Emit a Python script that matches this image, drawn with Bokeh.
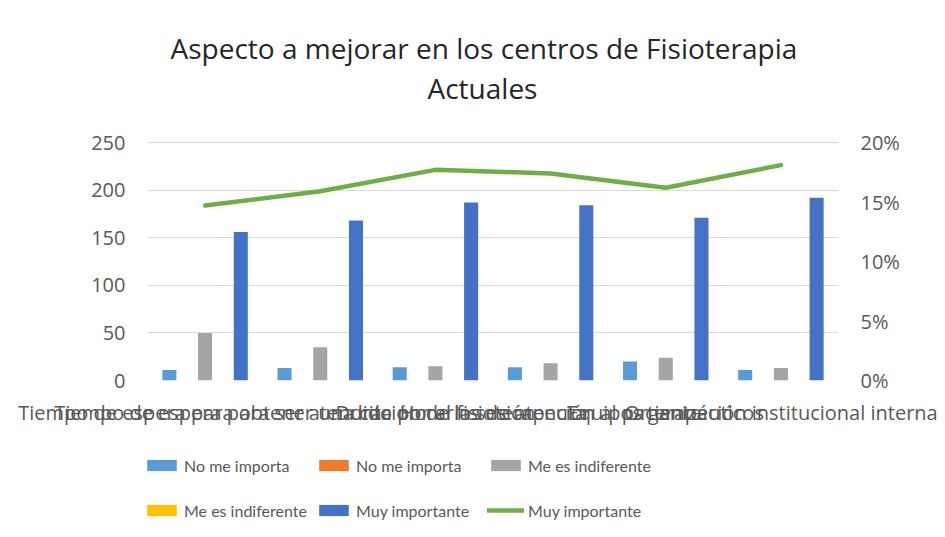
from bokeh.plotting import figure
from bokeh.layouts import column
from bokeh.models import (FactorRange, Range1d, LinearAxis, NumeralTickFormatter,
                          FixedTicker, Legend, LegendItem, Title, ColumnDataSource)
from bokeh.transform import dodge
from bokeh.embed import file_html
from bokeh.resources import INLINE

# ---------------- data ----------------
categories = [
    "Tiempo de espera para obtener una cita",
    "Tiempo de espera para ser atendido por el fisioterapeuta",
    "Duración de la sesión",
    "Horarios de atención al paciente",
    "Equipos terapéuticos",
    "Organización institucional interna",
]
no_me_importa = [11, 13, 14, 14, 20, 11]
no_me_importa_b = [0, 0, 0, 0, 0, 0]
me_es_indiferente = [50, 35, 15, 18, 24, 13]
me_es_indiferente_b = [0, 0, 0, 0, 0, 0]
muy_importante = [156, 168, 187, 184, 171, 192]
muy_importante_pct = [0.147, 0.159, 0.177, 0.174, 0.162, 0.181]
left_ticks = [0, 50, 100, 150, 200, 250]
right_ticks = [0, 0.05, 0.10, 0.15, 0.20]

FONT = "Open Sans"
GRAY_TXT = "#595959"
COLORS = ["#5B9BD5", "#ED7D31", "#A5A5A5", "#FFC000", "#4472C4"]
LINE_COLOR = "#70AD47"

# frame: 0 at the bottom edge, 250 / 20 % gridline 238 px higher, 36 px headroom above it
LEFT_TOP = 250 * 274 / 238
PCT_TOP = 0.20 * 274 / 238

src = ColumnDataSource(dict(cat=categories, a=no_me_importa, b=no_me_importa_b,
                            c=me_es_indiferente, d=me_es_indiferente_b,
                            e=muy_importante, pct=muy_importante_pct))

p = figure(x_range=FactorRange(*categories, range_padding=0), y_range=Range1d(0, LEFT_TOP),
           frame_width=691, frame_height=274, output_backend="svg", toolbar_location=None,
           min_border_left=147, min_border_right=107, min_border_top=106, min_border_bottom=50)
p.outline_line_color = None
p.xgrid.grid_line_color = None
p.ygrid.grid_line_color = "#d9d9d9"
p.ygrid.grid_line_width = 1
p.ygrid.ticker = FixedTicker(ticks=left_ticks)

# axes
p.yaxis.ticker = FixedTicker(ticks=left_ticks)
for ax in (p.xaxis[0], p.yaxis[0]):
    ax.axis_line_color = None
    ax.major_tick_line_color = None
    ax.minor_tick_line_color = None
    ax.major_tick_out = 0
    ax.major_tick_in = 0
    ax.major_label_text_font = FONT
    ax.major_label_text_font_size = "20px"
    ax.major_label_text_color = GRAY_TXT
p.yaxis.major_label_standoff = 22
p.xaxis.major_label_standoff = 18

p.extra_y_ranges = {"pct": Range1d(0, PCT_TOP)}
rax = LinearAxis(y_range_name="pct", ticker=FixedTicker(ticks=right_ticks),
                 formatter=NumeralTickFormatter(format="0%"))
rax.axis_line_color = None
rax.major_tick_line_color = None
rax.minor_tick_line_color = None
rax.major_tick_out = 0
rax.major_tick_in = 0
rax.major_label_text_font = FONT
rax.major_label_text_font_size = "20px"
rax.major_label_text_color = GRAY_TXT
rax.major_label_standoff = 22
p.add_layout(rax, "right")


def draw_series(fig):
    W = 0.122
    rs = []
    for off, col, c in zip([-0.31, -0.155, 0.0, 0.155, 0.31], ["a", "b", "c", "d", "e"], COLORS):
        rs.append(fig.vbar(x=dodge("cat", off, range=fig.x_range), top=col, width=W,
                           source=src, fill_color=c, line_color=None))
    rs.append(fig.line(x="cat", y="pct", y_range_name="pct", source=src,
                       line_color=LINE_COLOR, line_width=4.5, line_cap="round",
                       line_join="round"))
    return rs


draw_series(p)

t2 = Title(text="Actuales", align="left", offset=280, text_font=FONT,
           text_font_size="28px", text_font_style="normal", text_color="#262626", standoff=0)
t1 = Title(text="Aspecto a mejorar en los centros de Fisioterapia", align="left", offset=23,
           text_font=FONT, text_font_size="28px", text_font_style="normal",
           text_color="#262626", standoff=0)
p.add_layout(t2, "above")
p.add_layout(t1, "above")

# ---------------- legend strip (same series, drawn out of its view) ----------------
lp = figure(x_range=FactorRange(*categories), y_range=Range1d(1000, 1001),
            width=945, height=107, output_backend="svg", toolbar_location=None,
            x_axis_location=None, y_axis_location=None, min_border=0)
lp.extra_y_ranges = {"pct": Range1d(1000, 1001)}
lp.outline_line_color = None
lp.grid.visible = False
lr = draw_series(lp)


def make_legend(items, loc):
    lg = Legend(items=items, location=loc, orientation="horizontal")
    lg.background_fill_alpha = 0
    lg.border_line_color = None
    lg.margin = 0
    lg.padding = 0
    lg.spacing = 5
    lg.glyph_width = 37
    lg.glyph_height = 14
    lg.label_height = 20
    lg.label_width = 126
    lg.label_standoff = 4
    lg.label_text_font = "Lato"
    lg.label_text_font_size = "16px"
    lg.label_text_color = GRAY_TXT
    return lg


legend_row1 = make_legend([
    LegendItem(label="No me importa", renderers=[lr[0]]),
    LegendItem(label="No me importa", renderers=[lr[1]]),
    LegendItem(label="Me es indiferente", renderers=[lr[2]]),
], (-4, 62))
legend_row2 = make_legend([
    LegendItem(label="Me es indiferente", renderers=[lr[3]]),
    LegendItem(label="Muy importante", renderers=[lr[4]]),
    LegendItem(label="Muy importante", renderers=[lr[5]]),
], (-4, 17))
lp.add_layout(legend_row1, "center")
lp.add_layout(legend_row2, "center")

layout = column(p, lp, spacing=0)
open("out.html", "w").write(file_html(layout, INLINE))
